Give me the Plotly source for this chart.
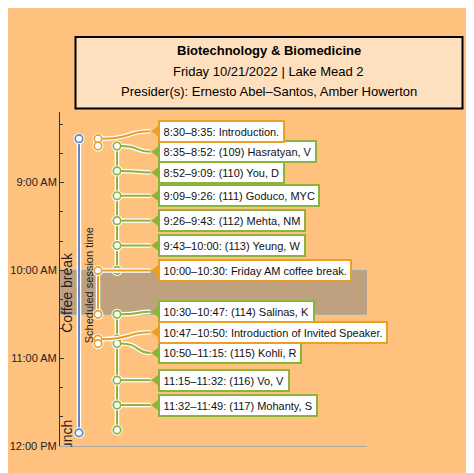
import plotly.graph_objects as go

# ---------------- data ----------------
session_title = "Biotechnology & Biomedicine"
session_info = "Friday 10/21/2022 | Lake Mead 2"
presiders = "Presider(s): Ernesto Abel–Santos, Amber Howerton"

starts = ["8:30", "8:35", "8:52", "9:09", "9:26", "9:43", "10:00",
          "10:30", "10:47", "10:50", "11:15", "11:32"]
ends = ["8:35", "8:52", "9:09", "9:26", "9:43", "10:00", "10:30",
        "10:47", "10:50", "11:15", "11:32", "11:49"]
titles = ["Introduction.", "(109) Hasratyan, V", "(110) You, D",
          "(111) Goduco, MYC", "(112) Mehta, NM", "(113) Yeung, W",
          "Friday AM coffee break.", "(114) Salinas, K",
          "Introduction of Invited Speaker.", "(115) Kohli, R",
          "(116) Vo, V", "(117) Mohanty, S"]
kinds = ["other", "talk", "talk", "talk", "talk", "talk", "other",
         "talk", "other", "talk", "talk", "talk"]

session_span = ["8:30", "11:51"]
coffee_span = ["10:00", "10:30"]
lunch_span = ["11:51", "12:00"]

tick_hours = [9, 10, 11, 12]
tick_labels = ["9:00 AM", "10:00 AM", "11:00 AM", "12:00 PM"]
minor_tick_times = ["8:20", "8:40", "9:20", "9:40", "10:20", "10:40",
                    "11:20", "11:40"]

# ---------------- styles / layout ----------------
W, H = 474, 473
OFF = 8                      # page body margin (screen px -> figure px)
ML, MT = 60 - OFF, 112 - OFF
PW, PH = 307, 334
MR, MB = W - ML - PW, H - MT - PH
PX_PER_HOUR = 87.8
Y_BOTTOM = 12.0
Y_TOP = Y_BOTTOM - PH / PX_PER_HOUR

BG = "#FFC27E"
TITLE_FILL = "#FFE0BE"
GREEN = "#8CB43A"
ORANGE = "#E9A027"
BLUE = "#5F87C8"
COFFEE_FILL = "#BFA17F"
FONT = "Liberation Sans, Arial, sans-serif"

BLUE_X, ORANGE_X, GREEN_X = 19, 38, 57
TIP_X, BOX_X = 90.5, 98
LABEL_GAP = 20.6 / PX_PER_HOUR


def hrs(s):
    hh, mm = s.split(":")
    return int(hh) + int(mm) / 60.0


def pxx(px):  # screen pixel -> paper x
    return (px - OFF - ML) / PW


def pxy(py):  # screen pixel -> paper y
    return (MT + PH - (py - OFF)) / PH


def spread(ts, d):
    clusters = []
    for i, t in enumerate(ts):
        clusters.append([[i], t])
        while len(clusters) > 1:
            prev, cur = clusters[-2], clusters[-1]
            prev_end = prev[1] + (len(prev[0]) - 1) * d
            if cur[1] - prev_end < d:
                idx = prev[0] + cur[0]
                vals = [ts[j] - k * d for k, j in enumerate(idx)]
                clusters[-2:] = [[idx, sum(vals) / len(vals)]]
            else:
                break
    pos = [0] * len(ts)
    for idx, top in clusters:
        for k, j in enumerate(idx):
            pos[j] = top + k * d
    return pos


t0 = [hrs(s) for s in starts]
t1 = [hrs(s) for s in ends]
label_y = spread(t0, LABEL_GAP)

fig = go.Figure()


def lane(xv, segs, color):
    xs, ys = [], []
    for a, b in segs:
        xs += [xv, xv, None]
        ys += [a, b, None]
    fig.add_trace(go.Scatter(x=xs, y=ys, mode="lines",
                             line=dict(color="white", width=4.5),
                             hoverinfo="skip", showlegend=False))
    fig.add_trace(go.Scatter(x=xs, y=ys, mode="lines",
                             line=dict(color=color, width=2),
                             hoverinfo="skip", showlegend=False))


def circles(xv, ys, color):
    fig.add_trace(go.Scatter(x=[xv] * len(ys), y=ys, mode="markers",
                             marker=dict(size=11, color="white"),
                             hoverinfo="skip", showlegend=False))
    fig.add_trace(go.Scatter(x=[xv] * len(ys), y=ys, mode="markers",
                             marker=dict(size=7.5, color="white",
                                         line=dict(color=color, width=1.7)),
                             hoverinfo="skip", showlegend=False))


talk_segs = [(a, b) for a, b, k in zip(t0, t1, kinds) if k == "talk"]
other_segs = [(a, b) for a, b, k in zip(t0, t1, kinds) if k != "talk"]
sess = (hrs(session_span[0]), hrs(session_span[1]))

lane(BLUE_X, [sess], BLUE)
lane(ORANGE_X, other_segs, ORANGE)
lane(GREEN_X, talk_segs, GREEN)
circles(BLUE_X, list(sess), BLUE)
circles(ORANGE_X, [v for s in other_segs for v in s], ORANGE)
circles(GREEN_X, sorted(set(v for s in talk_segs for v in s)), GREEN)

# pointer triangles
for kind, color in (("talk", GREEN), ("other", ORANGE)):
    ys = [ly for ly, k in zip(label_y, kinds) if k == kind]
    fig.add_trace(go.Scatter(x=[TIP_X + 6.35] * len(ys), y=ys, mode="markers",
                             marker=dict(symbol="triangle-left", size=11,
                                         color=color),
                             hoverinfo="skip", showlegend=False))

shapes = []
# coffee break band
c0, c1 = hrs(coffee_span[0]), hrs(coffee_span[1])
shapes.append(dict(type="rect", xref="x", yref="y", x0=0, x1=PW, y0=c0, y1=c1,
                   fillcolor=COFFEE_FILL, line=dict(color="#A9A9A9", width=1),
                   layer="below"))
# connectors
for k, ys0, ly in zip(kinds, t0, label_y):
    x0 = GREEN_X if k == "talk" else ORANGE_X
    color = GREEN if k == "talk" else ORANGE
    x0 += 4
    dx = TIP_X - x0
    path = (f"M{x0},{ys0} C{x0 + 0.62 * dx},{ys0} "
            f"{x0 + 0.5 * dx},{ly} {TIP_X},{ly}")
    shapes.append(dict(type="path", xref="x", yref="y", path=path,
                       line=dict(color="white", width=4.5), layer="above"))
    shapes.append(dict(type="path", xref="x", yref="y", path=path,
                       line=dict(color=color, width=2), layer="above"))
# title box
shapes.append(dict(type="rect", xref="paper", yref="paper",
                   x0=pxx(75.5), x1=pxx(462.5), y0=pxy(108.5), y1=pxy(37),
                   fillcolor=TITLE_FILL, line=dict(color="black", width=2),
                   layer="above"))

annotations = []
# title text
for txt, py, bold in ((session_title, 50.7, True), (session_info, 71.2, False),
                      (presiders, 91.8, False)):
    annotations.append(dict(xref="paper", yref="paper", x=pxx(268.5), y=pxy(py),
                            xanchor="center", yanchor="middle", showarrow=False,
                            text=f"<b>{txt}</b>" if bold else txt,
                            font=dict(size=13, color="black", family=FONT)))

# rotated side labels
annotations.append(dict(xref="x", yref="y", x=7.5, y=(c0 + c1) / 2,
                        text="Coffee break", textangle=-90, showarrow=False,
                        xanchor="center", yanchor="middle",
                        font=dict(size=14, color="#222", family=FONT)))
annotations.append(dict(xref="x", yref="y", x=28.5, y=(sess[0] + sess[1]) / 2,
                        text="Scheduled session time", textangle=-90,
                        showarrow=False, xanchor="center", yanchor="middle",
                        font=dict(size=11, color="#222", family=FONT)))
l0, l1 = hrs(lunch_span[0]), hrs(lunch_span[1])
annotations.append(dict(xref="x", yref="y", x=7.5, y=(l0 + l1) / 2,
                        text="Lunch", textangle=-90, showarrow=False,
                        xanchor="center", yanchor="middle",
                        font=dict(size=14, color="#222", family=FONT)))
# mask the part of "Lunch" below the plot area (clipping)
annotations.append(dict(xref="paper", yref="paper", x=pxx(61), y=pxy(447),
                        xanchor="left", yanchor="top", showarrow=False,
                        text=" ", width=16, height=16, bgcolor=BG,
                        borderpad=0, borderwidth=0))

# session labels: talks first, then other items on top
order = [i for i, k in enumerate(kinds) if k == "talk"] + \
        [i for i, k in enumerate(kinds) if k != "talk"]
for i in order:
    color = GREEN if kinds[i] == "talk" else ORANGE
    annotations.append(dict(xref="x", yref="y", x=BOX_X, y=label_y[i],
                            xanchor="left", yanchor="middle", showarrow=False,
                            align="left",
                            text=f"{starts[i]}–{ends[i]}: {titles[i]}",
                            bgcolor="white", bordercolor=color, borderwidth=2,
                            borderpad=3.6,
                            font=dict(size=11, color="#111", family=FONT)))

minor_vals = [hrs(s) for s in minor_tick_times]

fig.update_layout(
    width=W, height=H,
    margin=dict(l=ML, r=MR, t=MT, b=MB, pad=0, autoexpand=False),
    paper_bgcolor=BG, plot_bgcolor=BG,
    showlegend=False,
    font=dict(family=FONT, size=11, color="#222"),
    shapes=shapes, annotations=annotations,
    xaxis=dict(range=[0, PW], showline=True, linecolor="#A8A8A8",
               linewidth=1, showticklabels=False, ticks="",
               showgrid=False, zeroline=False, fixedrange=True,
               automargin=False),
    yaxis=dict(range=[Y_BOTTOM, Y_TOP], showline=True, linecolor="#333",
               linewidth=1, ticks="inside", ticklen=4, tickcolor="#333",
               tickmode="array", tickvals=tick_hours, ticktext=tick_labels,
               tickfont=dict(size=11, color="#222", family=FONT),
               showgrid=False, zeroline=False, fixedrange=True,
               automargin=False,
               minor=dict(tickmode="array", tickvals=minor_vals,
                          ticks="inside", ticklen=3, tickcolor="#333",
                          showgrid=False)),
)

fig.write_html("out.html")
